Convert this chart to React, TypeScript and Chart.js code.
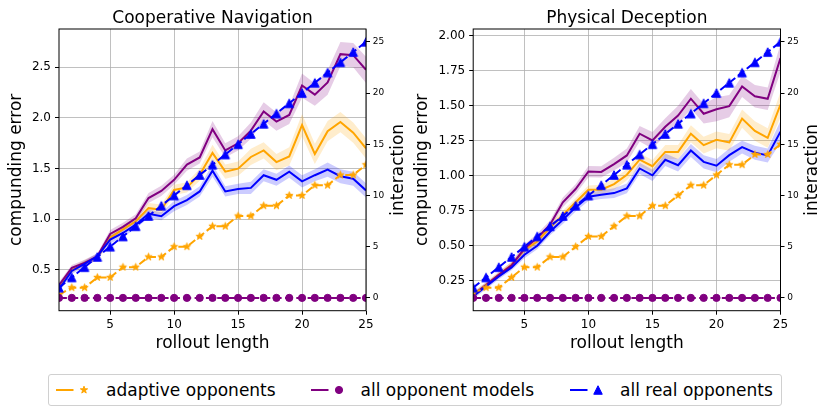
import { useEffect, useRef } from "react";
import { Chart, registerables } from "chart.js";

Chart.register(...registerables);

const FONT = "'DejaVu Sans', 'Liberation Sans', sans-serif";

// ---------- data ----------
const rolloutLength = [1, 2, 3, 4, 5, 6, 7, 8, 9, 10, 11, 12, 13, 14, 15, 16, 17, 18, 19, 20, 21, 22, 23, 24, 25];
const xTicks = [5, 10, 15, 20, 25];
const interactionTicks = [0, 5, 10, 15, 20, 25];
const coopErrorTicks = [0.5, 1.0, 1.5, 2.0, 2.5];
const decErrorTicks = [0.25, 0.5, 0.75, 1.0, 1.25, 1.5, 1.75, 2.0];

const legendLabels = ["adaptive opponents", "all opponent models", "all real opponents"];
const panelTitles = ["Cooperative Navigation", "Physical Deception"];

// interaction counts (right axis)
const interactionAllReal = [1, 2, 3, 4, 5, 6, 7, 8, 9, 10, 11, 12, 13, 14, 15, 16, 17, 18, 19, 20, 21, 22, 23, 24, 25];
const interactionAllModels = [0, 0, 0, 0, 0, 0, 0, 0, 0, 0, 0, 0, 0, 0, 0, 0, 0, 0, 0, 0, 0, 0, 0, 0, 0];
const coopInteractionAdaptive = [0.3, 1, 1, 2, 2, 3, 3, 4, 4, 5, 5, 6, 7, 7, 8, 8, 9, 9, 10, 10, 11, 11, 12, 12, 13];
const decInteractionAdaptive = [0.5, 1, 1, 2, 3, 3, 4, 4, 5, 6, 6, 7, 8, 8, 9, 9, 10, 11, 11, 12, 13, 13, 14, 14, 15];

// compounding error (left axis) — Cooperative Navigation
const coopErrAdaptive = [0.34, 0.5, 0.57, 0.625, 0.82, 0.9, 0.98, 1.11, 1.095, 1.29, 1.315, 1.44, 1.655, 1.47, 1.5, 1.615, 1.68, 1.565, 1.62, 1.93, 1.645, 1.87, 1.96, 1.855, 1.7];
const coopBandAdaptive = [0.03, 0.03, 0.03, 0.03, 0.04, 0.04, 0.04, 0.05, 0.05, 0.05, 0.05, 0.06, 0.08, 0.07, 0.07, 0.08, 0.08, 0.08, 0.09, 0.11, 0.1, 0.1, 0.1, 0.1, 0.1];
const coopErrModels = [0.35, 0.52, 0.57, 0.635, 0.855, 0.925, 1.01, 1.21, 1.28, 1.39, 1.54, 1.61, 1.89, 1.68, 1.75, 1.875, 2.065, 1.965, 2.03, 2.32, 2.23, 2.35, 2.63, 2.62, 2.475];
const coopBandModels = [0.03, 0.03, 0.03, 0.03, 0.04, 0.04, 0.04, 0.05, 0.05, 0.05, 0.06, 0.06, 0.08, 0.07, 0.07, 0.08, 0.09, 0.09, 0.09, 0.12, 0.11, 0.12, 0.12, 0.12, 0.13];
const coopErrReal = [0.31, 0.49, 0.56, 0.635, 0.8, 0.865, 0.947, 1.055, 1.03, 1.13, 1.19, 1.275, 1.48, 1.275, 1.3, 1.31, 1.435, 1.39, 1.47, 1.375, 1.435, 1.49, 1.425, 1.4, 1.285];
const coopBandReal = [0.03, 0.03, 0.03, 0.03, 0.04, 0.04, 0.04, 0.04, 0.04, 0.05, 0.05, 0.05, 0.06, 0.05, 0.05, 0.06, 0.06, 0.06, 0.06, 0.06, 0.06, 0.07, 0.07, 0.07, 0.07];

// compounding error (left axis) — Physical Deception
const decErrAdaptive = [0.15, 0.217, 0.293, 0.364, 0.47, 0.53, 0.63, 0.72, 0.81, 0.9, 0.9, 0.94, 1.007, 1.115, 1.068, 1.17, 1.17, 1.3, 1.218, 1.256, 1.238, 1.408, 1.32, 1.27, 1.508];
const decBandAdaptive = [0.02, 0.02, 0.02, 0.02, 0.025, 0.025, 0.03, 0.03, 0.03, 0.03, 0.035, 0.04, 0.04, 0.045, 0.045, 0.05, 0.05, 0.06, 0.06, 0.06, 0.06, 0.065, 0.07, 0.07, 0.09];
const decErrModels = [0.15, 0.22, 0.293, 0.36, 0.48, 0.555, 0.65, 0.81, 0.905, 1.03, 1.027, 1.083, 1.145, 1.3, 1.252, 1.35, 1.43, 1.55, 1.443, 1.475, 1.497, 1.638, 1.568, 1.55, 1.84];
const decBandModels = [0.02, 0.02, 0.02, 0.025, 0.03, 0.03, 0.03, 0.035, 0.035, 0.04, 0.04, 0.045, 0.05, 0.055, 0.06, 0.06, 0.07, 0.07, 0.07, 0.085, 0.08, 0.075, 0.08, 0.08, 0.1];
const decErrReal = [0.14, 0.21, 0.28, 0.345, 0.436, 0.5, 0.6, 0.686, 0.774, 0.85, 0.864, 0.876, 0.91, 1.052, 1.003, 1.114, 1.075, 1.18, 1.099, 1.072, 1.147, 1.204, 1.165, 1.145, 1.315];
const decBandReal = [0.02, 0.02, 0.02, 0.02, 0.025, 0.025, 0.025, 0.03, 0.03, 0.03, 0.03, 0.035, 0.035, 0.04, 0.04, 0.045, 0.045, 0.047, 0.047, 0.047, 0.047, 0.045, 0.05, 0.05, 0.077];

// ---------- style ----------
const ORANGE = "#FFA500";
const PURPLE = "#800080";
const BLUE = "#0000FF";
const ORANGE_FILL = "rgba(255,165,0,0.2)";
const PURPLE_FILL = "rgba(128,0,128,0.2)";
const BLUE_FILL = "rgba(0,0,255,0.2)";
const DASH = [7.9, 3.4];

type Panel = {
  title: string;
  errAdaptive: number[]; bandAdaptive: number[];
  errModels: number[]; bandModels: number[];
  errReal: number[]; bandReal: number[];
  interAdaptive: number[];
  errMin: number; errMax: number; errTicks: number[]; decimals: number;
  canvasLeft: number; canvasWidth: number; leftW: number; rightW: number; yTitlePad: number;
};

const panels: Panel[] = [
  {
    title: panelTitles[0],
    errAdaptive: coopErrAdaptive, bandAdaptive: coopBandAdaptive,
    errModels: coopErrModels, bandModels: coopBandModels,
    errReal: coopErrReal, bandReal: coopBandReal,
    interAdaptive: coopInteractionAdaptive,
    errMin: 0.098, errMax: 2.878, errTicks: coopErrorTicks, decimals: 1,
    canvasLeft: 0, canvasWidth: 410, leftW: 59, rightW: 44, yTitlePad: 6.3,
  },
  {
    title: panelTitles[1],
    errAdaptive: decErrAdaptive, bandAdaptive: decBandAdaptive,
    errModels: decErrModels, bandModels: decBandModels,
    errReal: decErrReal, bandReal: decBandReal,
    interAdaptive: decInteractionAdaptive,
    errMin: 0.036, errMax: 2.048, errTicks: decErrorTicks, decimals: 2,
    canvasLeft: 405, canvasWidth: 425, leftW: 68.2, rightW: 49.5, yTitlePad: 7.8,
  },
];

const CANVAS_H = 360;
const X_AXIS_H = 49.3;

// ---------- marker images ----------
function starImage(color: string, r: number): HTMLCanvasElement {
  const size = Math.ceil(r * 2 + 3);
  const c = document.createElement("canvas");
  c.width = size;
  c.height = size;
  const g = c.getContext("2d")!;
  g.translate(size / 2, size / 2);
  g.beginPath();
  for (let k = 0; k < 10; k++) {
    const a = (k * Math.PI) / 5 - Math.PI / 2;
    const rr = k % 2 === 0 ? r : r * 0.382;
    g.lineTo(Math.cos(a) * rr, Math.sin(a) * rr);
  }
  g.closePath();
  g.fillStyle = color;
  g.fill();
  g.strokeStyle = color;
  g.lineWidth = 1;
  g.lineJoin = "round";
  g.stroke();
  return c;
}

function triangleImage(color: string, s: number): HTMLCanvasElement {
  const size = Math.ceil(s + 3);
  const c = document.createElement("canvas");
  c.width = size;
  c.height = size;
  const g = c.getContext("2d")!;
  g.translate(size / 2, size / 2);
  g.beginPath();
  g.moveTo(0, -s / 2);
  g.lineTo(-s / 2, s / 2);
  g.lineTo(s / 2, s / 2);
  g.closePath();
  g.fillStyle = color;
  g.fill();
  g.strokeStyle = color;
  g.lineWidth = 1;
  g.stroke();
  return c;
}

const pts = (vals: number[]) => vals.map((v, i) => ({ x: rolloutLength[i], y: v }));
const bandPts = (vals: number[], band: number[], sign: number) =>
  vals.map((v, i) => ({ x: rolloutLength[i], y: v + sign * band[i] }));

function buildConfig(p: Panel, star: HTMLCanvasElement, tri: HTMLCanvasElement): any {
  const solid = (data: number[], color: string, order: number) => ({
    data: pts(data), yAxisID: "y", borderColor: color, borderWidth: 2, pointRadius: 0,
    fill: false, order, clip: 0,
  });
  const bandLow = (data: number[], band: number[], order: number) => ({
    data: bandPts(data, band, -1), yAxisID: "y", borderWidth: 0, borderColor: "transparent",
    pointRadius: 0, fill: false, order, clip: 0,
  });
  const bandHigh = (data: number[], band: number[], fillColor: string, order: number) => ({
    data: bandPts(data, band, 1), yAxisID: "y", borderWidth: 0, borderColor: "transparent",
    pointRadius: 0, fill: "-1", backgroundColor: fillColor, order, clip: 0,
  });

  const datasets = [
    {
      data: pts(interactionAllReal), yAxisID: "y2", borderColor: BLUE, borderWidth: 2, borderDash: DASH,
      pointStyle: tri, pointRadius: 4, fill: false, order: 1, clip: 0,
    },
    {
      data: pts(interactionAllModels), yAxisID: "y2", borderColor: PURPLE, borderWidth: 2, borderDash: DASH,
      pointStyle: "circle", pointRadius: 3.6, pointBorderWidth: 1, pointBackgroundColor: PURPLE,
      pointBorderColor: PURPLE, fill: false, order: 2, clip: 0,
    },
    {
      data: pts(p.interAdaptive), yAxisID: "y2", borderColor: ORANGE, borderWidth: 2, borderDash: DASH,
      pointStyle: star, pointRadius: 4, fill: false, order: 3, clip: 0,
    },
    solid(p.errReal, BLUE, 4),
    solid(p.errModels, PURPLE, 5),
    solid(p.errAdaptive, ORANGE, 6),
    bandLow(p.errReal, p.bandReal, 7),
    bandHigh(p.errReal, p.bandReal, BLUE_FILL, 7),
    bandLow(p.errModels, p.bandModels, 8),
    bandHigh(p.errModels, p.bandModels, PURPLE_FILL, 8),
    bandLow(p.errAdaptive, p.bandAdaptive, 9),
    bandHigh(p.errAdaptive, p.bandAdaptive, ORANGE_FILL, 9),
  ];

  const frameAndRightTitle = {
    id: "frameAndRightTitle",
    afterDatasetsDraw(chart: any) {
      const { ctx, chartArea: a } = chart;
      ctx.save();
      ctx.strokeStyle = "#000";
      ctx.lineWidth = 1;
      ctx.strokeRect(a.left, a.top, a.right - a.left, a.bottom - a.top);
      ctx.restore();
    },
    afterDraw(chart: any) {
      const { ctx, chartArea: a } = chart;
      ctx.save();
      ctx.translate(a.right + 32.5, (a.top + a.bottom) / 2);
      ctx.rotate(-Math.PI / 2);
      ctx.fillStyle = "#000";
      ctx.font = `17px ${FONT}`;
      ctx.textAlign = "center";
      ctx.textBaseline = "middle";
      ctx.fillText("interaction", 0, 0);
      ctx.restore();
    },
  };

  return {
    type: "line",
    data: { datasets },
    plugins: [frameAndRightTitle],
    options: {
      animation: false,
      responsive: false,
      events: [],
      layout: { padding: 0, autoPadding: false },
      plugins: {
        legend: { display: false },
        tooltip: { enabled: false },
        title: {
          display: true, text: p.title, color: "#000", fullSize: false,
          font: { family: FONT, size: 17, weight: "normal", lineHeight: 1.2 },
          padding: { top: 8.6, bottom: 0 },
        },
      },
      scales: {
        x: {
          type: "linear", min: 1, max: 25,
          afterBuildTicks: (s: any) => { s.ticks = xTicks.map((v) => ({ value: v })); },
          afterFit: (s: any) => { s.height = X_AXIS_H; },
          ticks: { color: "#000", font: { family: FONT, size: 12 }, padding: 2.8, maxRotation: 0, autoSkip: false,
            callback: (v: any) => String(v) },
          grid: { color: "#b0b0b0", lineWidth: 0.8, tickColor: "#000", tickWidth: 1, tickLength: 4 },
          border: { display: false },
          title: { display: true, text: "rollout length", color: "#000",
            font: { family: FONT, size: 17, lineHeight: 1.2 }, padding: { top: 0, bottom: 6.6 } },
        },
        y: {
          type: "linear", position: "left", min: p.errMin, max: p.errMax,
          afterBuildTicks: (s: any) => { s.ticks = p.errTicks.map((v) => ({ value: v })); },
          afterFit: (s: any) => { s.width = p.leftW; },
          ticks: { color: "#000", font: { family: FONT, size: 12 }, padding: 4, autoSkip: false,
            callback: (v: any) => Number(v).toFixed(p.decimals) },
          grid: { color: "#b0b0b0", lineWidth: 0.8, tickColor: "#000", tickWidth: 1, tickLength: 4 },
          border: { display: false },
          title: { display: true, text: "compunding error", color: "#000",
            font: { family: FONT, size: 17, lineHeight: 1.2 }, padding: { top: p.yTitlePad, bottom: 0 } },
        },
        y2: {
          type: "linear", position: "right", min: -1.25, max: 26.25,
          afterBuildTicks: (s: any) => { s.ticks = interactionTicks.map((v) => ({ value: v })); },
          afterFit: (s: any) => { s.width = p.rightW; },
          ticks: { color: "#000", font: { family: FONT, size: 9 }, padding: 2.7, autoSkip: false,
            callback: (v: any) => String(v) },
          grid: { drawOnChartArea: false, tickColor: "#000", tickWidth: 1, tickLength: 4 },
          border: { display: false },
        },
      },
    },
  };
}

function LegendHandle({ color, marker }: { color: string; marker: string }) {
  let m: any = null;
  if (marker === "star") {
    const r = 3.8;
    const d: string[] = [];
    for (let k = 0; k < 10; k++) {
      const a = (k * Math.PI) / 5 - Math.PI / 2;
      const rr = k % 2 === 0 ? r : r * 0.382;
      d.push(`${(28 + Math.cos(a) * rr).toFixed(2)},${(10 + Math.sin(a) * rr).toFixed(2)}`);
    }
    m = <polygon points={d.join(" ")} fill={color} stroke={color} strokeWidth={1} strokeLinejoin="round" />;
  } else if (marker === "circle") {
    m = <circle cx={28} cy={10} r={3.6} fill={color} stroke={color} strokeWidth={1} />;
  } else {
    m = <polygon points="28,5.75 23.75,14.25 32.25,14.25" fill={color} stroke={color} strokeWidth={1} />;
  }
  return (
    <svg width={50} height={20} style={{ display: "block", flex: "none" }}>
      <line x1={0} y1={10} x2={17.5} y2={10} stroke={color} strokeWidth={2} />
      {m}
    </svg>
  );
}

export default function App() {
  const ref0 = useRef<HTMLCanvasElement | null>(null);
  const ref1 = useRef<HTMLCanvasElement | null>(null);

  useEffect(() => {
    const star = starImage(ORANGE, 3.8);
    const tri = triangleImage(BLUE, 8.5);
    const charts: Chart[] = [];
    [ref0, ref1].forEach((r, i) => {
      if (r.current) charts.push(new Chart(r.current, buildConfig(panels[i], star, tri)));
    });
    return () => charts.forEach((c) => c.destroy());
  }, []);

  const legendItems = [
    { label: legendLabels[0], color: ORANGE, marker: "star", left: 7 },
    { label: legendLabels[1], color: PURPLE, marker: "circle", left: 261.6 },
    { label: legendLabels[2], color: BLUE, marker: "triangle", left: 521 },
  ];

  return (
    <div style={{ position: "absolute", left: 0, top: 0, width: 830, height: 415, background: "#fff", overflow: "hidden" }}>
      {panels.map((p, i) => (
        <canvas
          key={i}
          ref={i === 0 ? ref0 : ref1}
          width={p.canvasWidth}
          height={CANVAS_H}
          style={{ position: "absolute", left: p.canvasLeft, top: 0, width: p.canvasWidth, height: CANVAS_H }}
        />
      ))}
      <div
        style={{
          position: "absolute", left: 48, top: 374, width: 734, height: 32, boxSizing: "border-box",
          border: "1px solid #d0d0d0", borderRadius: 3, background: "#fff",
          fontFamily: FONT, fontSize: 17, color: "#000",
        }}
      >
        {legendItems.map((it, i) => (
          <div key={i} style={{ position: "absolute", left: it.left, top: 0, height: 30, display: "flex", alignItems: "center", whiteSpace: "nowrap" }}>
            <LegendHandle color={it.color} marker={it.marker} />
            <span>{it.label}</span>
          </div>
        ))}
      </div>
    </div>
  );
}
